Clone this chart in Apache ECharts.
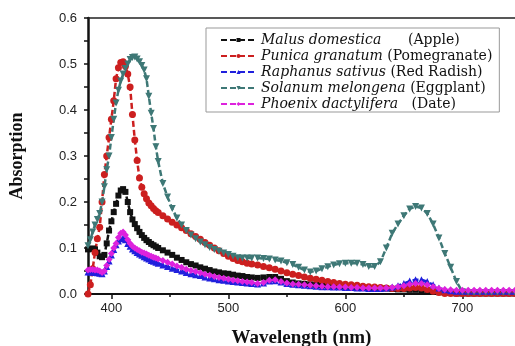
<!DOCTYPE html>
<html>
<head>
<meta charset="utf-8">
<script src="https://cdn.jsdelivr.net/npm/echarts@6/dist/echarts.min.js"></script>
<style>
  html, body { margin: 0; padding: 0; background: #fff; }
  #chart { width: 515px; height: 346px; }
</style>
</head>
<body>
<div id="chart"></div>
<script>
// wavelength grid (nm): 2 nm steps on the peaks, wider further out
const wavelength = [
    380, 382, 384, 386, 388, 390, 392, 394, 396, 398, 400, 402, 404, 406, 408, 410,
    412, 414, 416, 418, 420, 422, 424, 426, 428, 430, 432, 434, 436, 438, 440,
    444, 448, 452, 456, 460, 464, 468, 472, 476, 480, 484, 488, 492, 496, 500,
    504, 508, 512, 516, 520,
    525, 530, 535, 540, 545, 550, 555, 560, 565, 570, 575, 580, 585, 590, 595,
    600, 605, 610, 615, 620, 625, 630, 635, 640, 645, 650, 655, 660, 665, 670,
    675, 680, 685, 690, 695, 700, 705, 710, 715, 720, 725, 730, 735, 740, 745
];

const apple = [
    0.097, 0.098, 0.099, 0.097, 0.090, 0.082, 0.080, 0.085, 0.110, 0.138, 0.158, 0.178, 0.196, 0.214, 0.225, 0.228,
    0.222, 0.200, 0.178, 0.162, 0.152, 0.143, 0.135, 0.128, 0.122, 0.117, 0.113, 0.109, 0.106, 0.103, 0.100,
    0.095, 0.090, 0.085, 0.079, 0.074, 0.069, 0.065, 0.062, 0.058, 0.055, 0.052, 0.049, 0.047, 0.045, 0.044,
    0.042, 0.040, 0.039, 0.037, 0.036,
    0.035, 0.036, 0.037, 0.037, 0.033, 0.028, 0.025, 0.023, 0.022, 0.021, 0.020, 0.019, 0.018, 0.017, 0.016,
    0.015, 0.015, 0.014, 0.014, 0.013, 0.013, 0.012, 0.012, 0.011, 0.010, 0.010, 0.009, 0.009, 0.008, 0.007,
    0.005, 0.004, 0.003, 0.002, 0.001, 0.001, 0.001, 0.001, 0.001, 0.001, 0.001, 0.001, 0.001, 0.001, 0.001
];

const pomegranate = [
    0.000, 0.020, 0.055, 0.090, 0.120, 0.145, 0.200, 0.260, 0.300, 0.340, 0.380, 0.420, 0.468, 0.492, 0.503, 0.505,
    0.495, 0.478, 0.450, 0.390, 0.335, 0.290, 0.252, 0.232, 0.218, 0.207, 0.198, 0.192, 0.186, 0.181, 0.177,
    0.170, 0.163, 0.156, 0.150, 0.144, 0.138, 0.131, 0.125, 0.119, 0.112, 0.106, 0.100, 0.094, 0.088, 0.082,
    0.077, 0.073, 0.070, 0.067, 0.065,
    0.063, 0.060, 0.057, 0.054, 0.050, 0.046, 0.043, 0.040, 0.037, 0.034, 0.032, 0.030, 0.027, 0.025, 0.023,
    0.021, 0.020, 0.019, 0.017, 0.016, 0.015, 0.014, 0.013, 0.012, 0.012, 0.012, 0.013, 0.014, 0.013, 0.010,
    0.006, 0.003, 0.001, 0.001, 0.001, 0.001, 0.001, 0.001, 0.001, 0.001, 0.001, 0.001, 0.001, 0.001, 0.001
];

const radish = [
    0.048, 0.048, 0.048, 0.047, 0.046, 0.045, 0.044, 0.050, 0.060, 0.072, 0.085, 0.097, 0.107, 0.115, 0.120, 0.122,
    0.118, 0.110, 0.104, 0.098, 0.094, 0.090, 0.087, 0.084, 0.081, 0.078, 0.076, 0.073, 0.071, 0.069, 0.067,
    0.063, 0.060, 0.056, 0.053, 0.050, 0.047, 0.044, 0.042, 0.040, 0.037, 0.035, 0.033, 0.031, 0.030, 0.028,
    0.027, 0.026, 0.025, 0.024, 0.023,
    0.022, 0.024, 0.028, 0.029, 0.026, 0.023, 0.021, 0.020, 0.019, 0.018, 0.017, 0.016, 0.016, 0.015, 0.015,
    0.014, 0.014, 0.013, 0.013, 0.012, 0.012, 0.012, 0.013, 0.015, 0.018, 0.023, 0.028, 0.031, 0.031, 0.027,
    0.020, 0.013, 0.009, 0.007, 0.006, 0.006, 0.006, 0.006, 0.006, 0.006, 0.006, 0.006, 0.006, 0.006, 0.006
];

const eggplant = [
    0.105, 0.118, 0.135, 0.150, 0.162, 0.175, 0.200, 0.233, 0.270, 0.300, 0.340, 0.380, 0.415, 0.443, 0.463, 0.478,
    0.490, 0.500, 0.510, 0.514, 0.515, 0.511, 0.505, 0.497, 0.487, 0.468, 0.430, 0.393, 0.360, 0.320, 0.288,
    0.240, 0.211, 0.186, 0.165, 0.150, 0.138, 0.128, 0.120, 0.113, 0.107, 0.101, 0.097, 0.093, 0.089, 0.086,
    0.082, 0.079, 0.078, 0.078, 0.078,
    0.078, 0.077, 0.076, 0.074, 0.072, 0.068, 0.064, 0.058, 0.052, 0.048, 0.050, 0.055, 0.059, 0.063, 0.066,
    0.067, 0.067, 0.067, 0.064, 0.060, 0.060, 0.070, 0.100, 0.132, 0.152, 0.170, 0.185, 0.190, 0.187, 0.175,
    0.152, 0.122, 0.088, 0.058, 0.027, 0.005, 0.003, 0.003, 0.003, 0.003, 0.003, 0.003, 0.003, 0.003, 0.003
];

const date = [
    0.052, 0.053, 0.053, 0.052, 0.052, 0.050, 0.047, 0.050, 0.062, 0.075, 0.088, 0.100, 0.110, 0.123, 0.132, 0.135,
    0.128, 0.118, 0.110, 0.104, 0.100, 0.097, 0.094, 0.091, 0.089, 0.087, 0.084, 0.082, 0.080, 0.078, 0.076,
    0.073, 0.069, 0.065, 0.061, 0.058, 0.054, 0.051, 0.049, 0.046, 0.043, 0.041, 0.038, 0.036, 0.034, 0.032,
    0.030, 0.029, 0.027, 0.026, 0.025,
    0.023, 0.025, 0.030, 0.031, 0.027, 0.024, 0.022, 0.021, 0.020, 0.019, 0.018, 0.017, 0.016, 0.016, 0.015,
    0.015, 0.014, 0.014, 0.013, 0.013, 0.013, 0.013, 0.013, 0.014, 0.016, 0.018, 0.021, 0.023, 0.023, 0.020,
    0.016, 0.012, 0.010, 0.009, 0.008, 0.008, 0.008, 0.008, 0.008, 0.008, 0.008, 0.008, 0.008, 0.008, 0.008
];

const xLabels = [400, 500, 600, 700];
const xMinorTicks = [450, 550, 650];

const legendNames = {
    apple: ['Malus domestica', '      (Apple)'],
    pomegranate: ['Punica granatum', ' (Pomegranate)'],
    radish: ['Raphanus sativus', ' (Red Radish)'],
    eggplant: ['Solanum melongena', ' (Eggplant)'],
    date: ['Phoenix dactylifera', '   (Date)'],
};

function pairs(values) {
    return wavelength.map(function (w, i) {
        return [w, values[i]];
    });
}

function spectrum(key, values, color, symbol, rotate) {
    return {
        name: key,
        type: 'line',
        data: pairs(values),
        symbol: symbol,
        symbolSize: symbol === 'rect' ? 6 : 7,
        symbolRotate: rotate || 0,
        color: color,
        lineStyle: { color: color, width: 2.5, type: [6, 3] },
        itemStyle: { color: color },
    };
}

const myChart = echarts.init(document.getElementById('chart'));
const option = {
    animation: false,
    grid: {
        left: 88,
        right: 0,
        top: 18,
        bottom: 52,
        outerBoundsMode: 'none',
    },
    legend: {
        orient: 'vertical',
        left: 206,
        top: 28,
        padding: [5, 7, 1, 14],
        itemGap: 2,
        itemWidth: 35,
        itemHeight: 5,
        backgroundColor: '#fff',
        borderColor: '#999',
        borderWidth: 1,
        formatter: function (name) {
            const n = legendNames[name];
            return '{i|' + n[0] + '}{n|' + n[1] + '}';
        },
        textStyle: {
            rich: {
                i: {
                    fontFamily: 'DejaVu Serif',
                    fontStyle: 'italic',
                    fontSize: 14,
                    lineHeight: 15,
                    color: '#111',
                },
                n: {
                    fontFamily: 'DejaVu Serif',
                    fontSize: 14,
                    lineHeight: 15,
                    color: '#111',
                },
            },
        },
    },
    xAxis: [
        {
            type: 'value',
            min: 380,
            max: 745,
            name: 'Wavelength (nm)',
            nameLocation: 'middle',
            nameGap: 35,
            nameTextStyle: {
                fontFamily: 'Liberation Serif',
                fontWeight: 'bold',
                fontSize: 19,
                color: '#111',
            },
            axisLine: { lineStyle: { color: '#111', width: 2 } },
            axisTick: {
                length: 5,
                customValues: xLabels,
                lineStyle: { color: '#111', width: 1.5 },
            },
            axisLabel: {
                customValues: xLabels,
                margin: 8,
                fontFamily: 'Liberation Sans',
                fontSize: 13,
                color: '#222',
            },
            splitLine: { show: false },
        },
        {
            type: 'value',
            position: 'top',
            min: 380,
            max: 745,
            axisLine: { show: true, lineStyle: { color: '#222', width: 1.5 } },
            axisTick: { show: false },
            axisLabel: { show: false },
            splitLine: { show: false },
        },
        {
            type: 'value',
            position: 'bottom',
            min: 380,
            max: 745,
            axisLine: { show: false },
            axisTick: {
                length: 3,
                customValues: xMinorTicks,
                lineStyle: { color: '#111', width: 1.5 },
            },
            axisLabel: { show: false },
            splitLine: { show: false },
        },
    ],
    yAxis: {
        type: 'value',
        min: 0,
        max: 0.6,
        interval: 0.1,
        name: 'Absorption',
        nameLocation: 'middle',
        nameGap: 62,
        nameTextStyle: {
            fontFamily: 'Liberation Serif',
            fontWeight: 'bold',
            fontSize: 18,
            color: '#111',
        },
        axisLine: { show: true, lineStyle: { color: '#111', width: 2.5 } },
        axisTick: { length: 4, lineStyle: { color: '#111', width: 1.5 } },
        minorTick: { show: true, splitNumber: 2, length: 4, lineStyle: { color: '#111', width: 1.5 } },
        axisLabel: {
            margin: 11,
            fontFamily: 'Liberation Sans',
            fontSize: 13,
            color: '#222',
            formatter: function (v) {
                return v.toFixed(1);
            },
        },
        splitLine: { show: false },
    },
    series: [
        spectrum('apple', apple, '#111111', 'rect'),
        spectrum('pomegranate', pomegranate, '#cc1f1f', 'circle'),
        spectrum('radish', radish, '#2020dd', 'triangle'),
        spectrum('eggplant', eggplant, '#3e7876', 'triangle', 180),
        spectrum('date', date, '#dd22dd', 'diamond'),
    ],
};
myChart.setOption(option);
window.addEventListener('resize', myChart.resize);
</script>
</body>
</html>
